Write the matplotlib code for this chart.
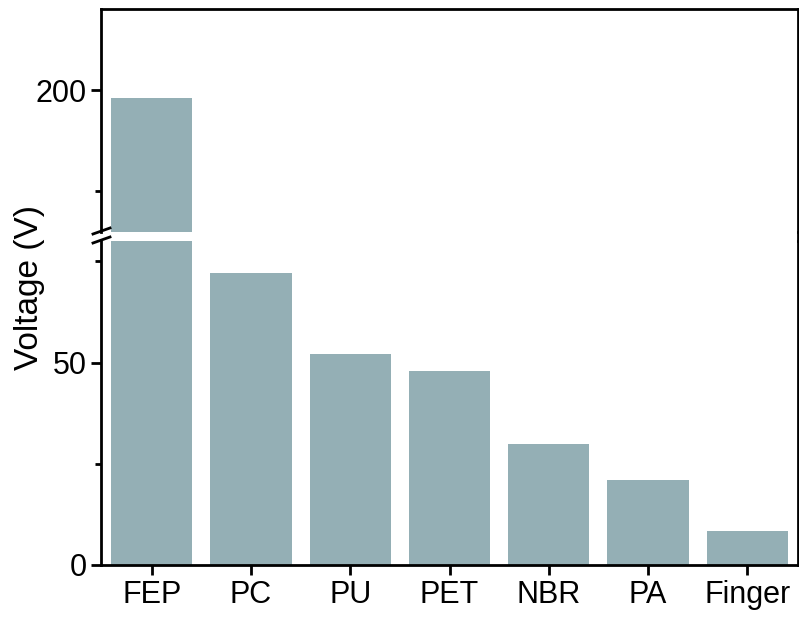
import matplotlib
matplotlib.use("Agg")
import matplotlib.pyplot as plt
from matplotlib.lines import Line2D
import numpy as np

categories = ["FEP", "PC", "PU", "PET", "NBR", "PA", "Finger"]
voltage = [198, 72, 52, 48, 30, 21, 8.5]

bar_color = "#94AFB5"
plt.rcParams['font.family'] = ['Liberation Sans', 'DejaVu Sans']

W, H = 799, 619
fig = plt.figure(figsize=(W/100, H/100), dpi=100)

left = 101 / W
right = 798 / W
top_px, upper_bot_px, lower_top_px, bot_px = 9, 232, 241, 565
ax_up = fig.add_axes([left, 1 - upper_bot_px / H, right - left, (upper_bot_px - top_px) / H])
ax_lo = fig.add_axes([left, 1 - bot_px / H, right - left, (bot_px - lower_top_px) / H])

x = np.arange(len(categories))
for ax in (ax_up, ax_lo):
    ax.bar(x, voltage, width=0.82, color=bar_color, edgecolor="none")
    ax.set_xlim(-0.51, len(categories) - 0.49)
    for s in ax.spines.values():
        s.set_linewidth(2)
    ax.tick_params(axis='both', which='major', direction='out', length=7, width=2, labelsize=22)
    ax.tick_params(axis='y', which='minor', direction='out', length=4, width=2)

ax_lo.set_ylim(0, 80)
ax_up.set_ylim(165, 220)
ax_lo.set_yticks([0, 50])
ax_lo.set_yticks([25, 75], minor=True)
ax_up.set_yticks([200])
ax_up.set_yticks([175], minor=True)

ax_up.spines['bottom'].set_visible(False)
ax_lo.spines['top'].set_visible(False)
ax_up.tick_params(axis='x', which='both', bottom=False, labelbottom=False)
ax_lo.set_xticks(x)
ax_lo.set_xticklabels(categories)

ax_lo.set_ylabel("Voltage (V)", fontsize=24)
ax_lo.yaxis.set_label_coords(-0.081, 0.858)

# break marks
for yp in (upper_bot_px - 1, lower_top_px - 1):
    x0, x1 = 93 / W, 110 / W
    y0, y1 = 1 - (yp + 3) / H, 1 - (yp - 3) / H
    fig.add_artist(Line2D([x0, x1], [y0, y1], color='black', lw=2))

# right spine across the gap
fig.add_artist(Line2D([right, right], [1 - upper_bot_px / H, 1 - lower_top_px / H], color='black', lw=2))

fig.savefig("out.png", dpi=100)
